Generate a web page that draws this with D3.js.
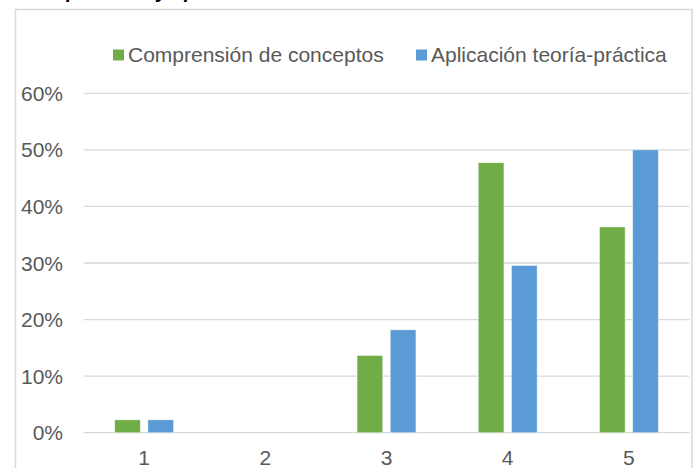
<!DOCTYPE html>
<html lang="es">
<head>
<meta charset="utf-8">
<title>Comprensión y aplicación</title>
<script src="https://cdn.jsdelivr.net/npm/d3@7"></script>
<style>
  html, body { margin: 0; padding: 0; background: #fff; }
  svg { display: block; font-family: "Liberation Sans", Arial, sans-serif; }
</style>
</head>
<body>
<div id="chart"></div>
<script>
// data (44 respondents)
var categories = ["1", "2", "3", "4", "5"];
var seriesNames = ["Comprensión de conceptos", "Aplicación teoría-práctica"];
var comprension = [0.0227, 0, 0.1364, 0.4773, 0.3636];
var aplicacion = [0.0227, 0, 0.1818, 0.2955, 0.50];
var yTicks = [0, 0.1, 0.2, 0.3, 0.4, 0.5, 0.6];

var colors = ["#70AD47", "#5B9BD5"];
var W = 696, H = 468;
var plotLeft = 83.5, plotRight = 689.5, plotTop = 93.3, plotBottom = 432.7;
var fs = 21;

var svg = d3.select("#chart").append("svg")
  .attr("width", W).attr("height", H);

// caption above the chart, mostly cut off in the picture
svg.append("text")
  .attr("x", 22).attr("y", -2)
  .attr("font-size", 20).attr("font-style", "italic").attr("font-weight", "bold")
  .attr("fill", "#000")
  .text("Comprensión y aplicación");

// chart frame
svg.append("rect")
  .attr("x", 15.5).attr("y", 9.5)
  .attr("width", 676.5).attr("height", 470)
  .attr("fill", "#fff").attr("stroke", "#D9D9D9").attr("stroke-width", 1.5);

var y = d3.scaleLinear().domain([0, 0.6]).range([plotBottom, plotTop]);
var x0 = d3.scaleBand().domain(categories).range([plotLeft, plotRight]);
var inner = 25.6, gap = 7.6;

// gridlines
svg.append("g").selectAll("line")
  .data(yTicks).enter().append("line")
  .attr("x1", plotLeft).attr("x2", plotRight)
  .attr("y1", function(d){ return y(d); })
  .attr("y2", function(d){ return y(d); })
  .attr("stroke", "#D9D9D9").attr("stroke-width", 1.3);

// y tick labels
svg.append("g").selectAll("text")
  .data(yTicks).enter().append("text")
  .attr("x", 63).attr("y", function(d){ return y(d); })
  .attr("dy", "0.36em")
  .attr("text-anchor", "end")
  .attr("font-size", fs).attr("fill", "#595959")
  .text(d3.format(".0%"));

// bars
var rows = categories.map(function(c, i){ return {cat: c, vals: [comprension[i], aplicacion[i]]}; });
var groups = svg.append("g").selectAll("g")
  .data(rows).enter().append("g");
groups.selectAll("rect")
  .data(function(d){ return d.vals.map(function(v, j){ return {cat: d.cat, v: v, j: j}; }); })
  .enter().append("rect")
  .filter(function(d){ return d.v > 0; })
  .attr("x", function(d){
    var c = x0(d.cat) + x0.bandwidth() / 2;
    return d.j === 0 ? c - gap / 2 - inner : c + gap / 2;
  })
  .attr("y", function(d){ return y(d.v); })
  .attr("width", inner)
  .attr("height", function(d){ return y(0) - y(d.v); })
  .attr("fill", function(d){ return colors[d.j]; })
  .attr("stroke", "#fff").attr("stroke-opacity", 0.5).attr("stroke-width", 0.75);

// x labels
svg.append("g").selectAll("text")
  .data(categories).enter().append("text")
  .attr("x", function(d){ return x0(d) + x0.bandwidth() / 2; })
  .attr("y", 465)
  .attr("text-anchor", "middle")
  .attr("font-size", fs).attr("fill", "#595959")
  .text(function(d){ return d; });

// legend
var legendX = [113, 416];
var leg = svg.append("g").selectAll("g")
  .data(seriesNames).enter().append("g");
leg.append("rect")
  .attr("x", function(d, i){ return legendX[i]; })
  .attr("y", 49.5).attr("width", 11).attr("height", 11)
  .attr("fill", function(d, i){ return colors[i]; });
leg.append("text")
  .attr("x", function(d, i){ return legendX[i] + 15; })
  .attr("y", 62)
  .attr("font-size", fs).attr("fill", "#595959")
  .text(function(d){ return d; });
</script>
</body>
</html>
